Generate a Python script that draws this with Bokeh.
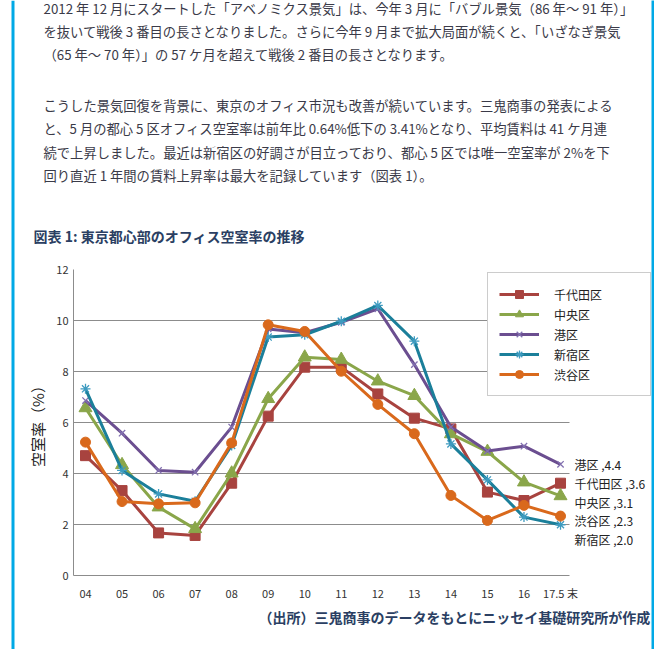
from bokeh.plotting import figure
from bokeh.layouts import row, column
from bokeh.models import Label, Legend, LegendItem, FixedTicker, BoxAnnotation, Range1d
from bokeh.embed import file_html
from bokeh.resources import INLINE

FONT = "Noto Sans CJK JP"

# ---------------- data ----------------
years = ["04", "05", "06", "07", "08", "09", "10", "11", "12", "13", "14", "15", "16", "17.5 末"]
series_names = ["千代田区", "中央区", "港区", "新宿区", "渋谷区"]
chiyoda = [4.70, 3.33, 1.67, 1.57, 3.62, 6.25, 8.17, 8.17, 7.12, 6.17, 5.75, 3.27, 2.94, 3.62]
chuo = [6.57, 4.34, 2.68, 1.83, 4.01, 6.93, 8.56, 8.47, 7.62, 7.05, 5.55, 4.86, 3.66, 3.12]
minato = [6.86, 5.58, 4.12, 4.05, 5.82, 9.67, 9.52, 9.93, 10.46, 8.27, 5.82, 4.88, 5.07, 4.36]
shinjuku = [7.32, 4.12, 3.20, 2.91, 5.10, 9.35, 9.44, 9.97, 10.59, 9.19, 5.16, 3.75, 2.29, 1.99]
shibuya = [5.23, 2.90, 2.81, 2.85, 5.20, 9.83, 9.57, 8.01, 6.71, 5.56, 3.14, 2.16, 2.75, 2.33]
y_ticks = [0, 2, 4, 6, 8, 10, 12]

paragraph1 = [
    "2012 年 12 月にスタートした「アベノミクス景気」は、今年 3 月に「バブル景気（86 年～ 91 年）」",
    "を抜いて戦後 3 番目の長さとなりました。さらに今年 9 月まで拡大局面が続くと、「いざなぎ景気",
    "（65 年～ 70 年）」の 57 ケ月を超えて戦後 2 番目の長さとなります。",
]
paragraph2 = [
    "こうした景気回復を背景に、東京のオフィス市況も改善が続いています。三鬼商事の発表による",
    "と、5 月の都心 5 区オフィス空室率は前年比 0.64%低下の 3.41%となり、平均賃料は 41 ケ月連",
    "続で上昇しました。最近は新宿区の好調さが目立っており、都心 5 区では唯一空室率が 2%を下",
    "回り直近 1 年間の賃料上昇率は最大を記録しています（図表 1）。",
]
title_text = "図表 1: 東京都心部のオフィス空室率の推移"
y_label = "空室率（%）"
source_text = "（出所）三鬼商事のデータをもとにニッセイ基礎研究所が作成"

BLUE = "#00A9E6"
TEXT = "#3a3a48"
NAVY = "#2B3F63"

# ---------------- layout geometry (pixels) ----------------
LW, MW, RW = 15, 636, 3          # left strip, main column, right strip widths
H_HEAD, H_CHART, H_FOOT = 261, 345, 43
H_ALL = H_HEAD + H_CHART + H_FOOT
X0 = LW                           # left x of main column


def blank(width, height, x0, x1, y0, y1):
    f = figure(width=width, height=height, output_backend="svg", toolbar_location=None,
               tools="", x_axis_location=None, y_axis_location=None,
               x_range=Range1d(x0, x1), y_range=Range1d(y1, y0),
               min_border=0, min_border_left=0, min_border_right=0,
               min_border_top=0, min_border_bottom=0, frame_align=False)
    f.outline_line_color = None
    f.grid.visible = False
    return f


def text_at(f, x, y, text, size, color, bold=False, align="left"):
    f.add_layout(Label(x=x, y=y, text=text, text_font=FONT, text_font_size=f"{size}px",
                       text_color=color, text_font_style="bold" if bold else "normal",
                       text_align=align, text_baseline="middle"))


# left strip with blue rule
left = blank(LW, H_ALL, 0, LW, 0, H_ALL)
left.add_layout(BoxAnnotation(left=11, right=14, fill_color=BLUE, fill_alpha=1, line_color=None))

# right strip (blue)
right = blank(RW, H_ALL, 0, RW, 0, H_ALL)
right.background_fill_color = BLUE
right.border_fill_color = BLUE

# header with body text and chart title
head = blank(MW, H_HEAD, X0, X0 + MW, 0, H_HEAD)
for i, line in enumerate(paragraph1):
    text_at(head, 43, 8 + 23 * i, line, 13.3, TEXT)
for i, line in enumerate(paragraph2):
    text_at(head, 43, 105 + 23.3 * i, line, 13.3, TEXT)
text_at(head, 33, 235.5, title_text, 14, NAVY, bold=True)

# footer with source note
foot = blank(MW, H_FOOT, X0, X0 + MW, H_HEAD + H_CHART, H_ALL)
text_at(foot, 650, 616, source_text, 14, NAVY, bold=True, align="right")

# ---------------- chart ----------------
PX = 36.54                       # pixels per category step
FRAME_L, FRAME_T, FRAME_B = 73, 269, 575
frame_w = X0 + MW - FRAME_L
x_start = -12 / PX
x_end = x_start + frame_w / PX
x_last = 13 + 9 / PX             # end of plotted area

p = figure(width=MW, height=H_CHART, x_range=Range1d(x_start, x_end), y_range=Range1d(0, 12),
           output_backend="svg", toolbar_location=None, tools="", frame_align=False,
           min_border_left=FRAME_L - X0, min_border_right=0,
           min_border_top=FRAME_T - H_HEAD, min_border_bottom=H_HEAD + H_CHART - FRAME_B)
p.outline_line_color = None

x_idx = list(range(len(years)))
p.xaxis.ticker = FixedTicker(ticks=x_idx)
p.xaxis.major_label_overrides = {i: years[i] for i in x_idx}
p.xaxis.bounds = (x_start, x_last)
p.yaxis.ticker = FixedTicker(ticks=y_ticks)
for ax in (p.xaxis[0], p.yaxis[0]):
    ax.axis_line_color = "#8c8c8c"
    ax.axis_line_width = 1
    ax.major_tick_line_color = None
    ax.minor_tick_line_color = None
    ax.major_tick_out = 0
    ax.major_tick_in = 0
    ax.major_label_text_font = FONT
    ax.major_label_text_font_size = "11px"
    ax.major_label_text_color = "#333333"
p.xaxis.major_label_standoff = 9
p.yaxis.major_label_standoff = 5
p.yaxis.axis_label = y_label
p.yaxis.axis_label_text_font = FONT
p.yaxis.axis_label_text_font_size = "15px"
p.yaxis.axis_label_text_font_style = "normal"
p.yaxis.axis_label_text_color = "#222222"
p.yaxis.axis_label_standoff = 5

p.xgrid.grid_line_color = None
p.ygrid.grid_line_color = "#8c8c8c"
p.ygrid.grid_line_width = 1
p.ygrid.cross_bounds = (x_start, x_last)

series = [chiyoda, chuo, minato, shinjuku, shibuya]
styles = [
    dict(color="#A8433F", marker="square", size=10, mline="#A8433F", mw=1),
    dict(color="#8AA64A", marker="triangle", size=13, mline="#8AA64A", mw=1),
    dict(color="#6B4E90", marker="x", size=9, mline="#8270B0", mw=1.3),
    dict(color="#1B7F9A", marker="asterisk", size=10, mline="#3E9BC0", mw=1.3),
    dict(color="#D9691C", marker="circle", size=10, mline="#D9691C", mw=1),
]

items = []
for name, vals, st in zip(series_names, series, styles):
    lr = p.line(x_idx, vals, line_color=st["color"], line_width=3)
    sr = p.scatter(x_idx, vals, marker=st["marker"], size=st["size"],
                   fill_color=st["color"], line_color=st["mline"], line_width=st["mw"])
    items.append(LegendItem(label=name, renderers=[lr, sr]))

legend = Legend(items=items, location=(487 - FRAME_L, FRAME_B - 396), orientation="vertical",
                label_text_font=FONT, label_text_font_size="12px", label_text_color="#222222",
                glyph_width=40, glyph_height=20, label_height=20, spacing=0,
                padding=11, label_standoff=15, label_width=85, margin=0,
                border_line_color="#999999", border_line_width=1,
                background_fill_color="white", background_fill_alpha=1)
p.add_layout(legend)

# end-of-line data labels, pushed apart so they do not overlap
last_vals = [(vals[-1], name) for name, vals in zip(series_names, series)]
last_vals.sort(key=lambda t: -t[0])
gap = 0.74
prev = None
for v, name in last_vals:
    ly = v if prev is None else min(v, prev - gap)
    prev = ly
    p.add_layout(Label(x=x_idx[-1], y=ly, x_units="data", y_units="data", x_offset=14,
                       text=f"{name} ,{v:.1f}", text_font=FONT, text_font_size="12px",
                       text_color="#222222", text_align="left", text_baseline="middle"))

layout = row(left, column(head, p, foot, spacing=0), right, spacing=0)
open("out.html", "w").write(file_html(layout, INLINE))
